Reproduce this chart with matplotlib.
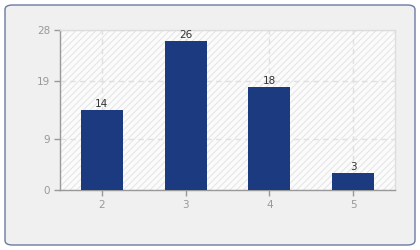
import matplotlib.pyplot as plt
from matplotlib.patches import FancyBboxPatch, Rectangle

categories = ["2", "3", "4", "5"]
values = [14, 26, 18, 3]
yticks = [0, 9, 19, 28]

plt.rcParams['hatch.linewidth'] = 0.7
plt.rcParams['hatch.color'] = '#e4e4e4'

fig = plt.figure(figsize=(4.2, 2.5), dpi=100)
fig.patch.set_facecolor('white')

# outer rounded panel, kept behind the axes
box = FancyBboxPatch((5 / 420, 5 / 250), 410 / 420, 240 / 250,
                     boxstyle="round,pad=0,rounding_size=0.018",
                     transform=fig.transFigure, facecolor='#f0f0f0',
                     edgecolor='#6b7aa3', linewidth=1.0, zorder=-5)
fig.patches.append(box)

ax = fig.add_axes([60 / 420, 60 / 250, 335 / 420, 160 / 250])
ax.set_facecolor('#fbfbfb')
ax.add_patch(Rectangle((0, 0), 1, 1, transform=ax.transAxes, facecolor='none',
                       hatch='/////', edgecolor='#e4e4e4', linewidth=0, zorder=0))

x = [int(c) for c in categories]
bars = ax.bar(x, values, width=0.5, color='#1b3a7f', zorder=3)
for b, v in zip(bars, values):
    ax.text(b.get_x() + b.get_width() / 2, v + 0.2, str(v), ha='center', va='bottom',
            fontsize=7.5, color='#333333', zorder=4)

ax.set_xlim(1.5, 5.5)
ax.set_ylim(0, 28)
ax.set_xticks(x)
ax.set_xticklabels(categories)
ax.set_yticks(yticks)
ax.grid(True, color='#e0e0e0', linestyle=(0, (4, 3)), linewidth=1.0, zorder=1)
ax.set_axisbelow(True)

for s in ['left', 'bottom']:
    ax.spines[s].set_color('#999999')
    ax.spines[s].set_linewidth(1.0)
for s in ['top', 'right']:
    ax.spines[s].set_color('#dddddd')
    ax.spines[s].set_linewidth(1.0)

ax.tick_params(axis='both', colors='#999999', labelsize=7.5, length=4, width=1,
               labelcolor='#999999')
ax.tick_params(axis='x', pad=3)
ax.tick_params(axis='y', pad=3)

fig.savefig('out.png', dpi=100)
